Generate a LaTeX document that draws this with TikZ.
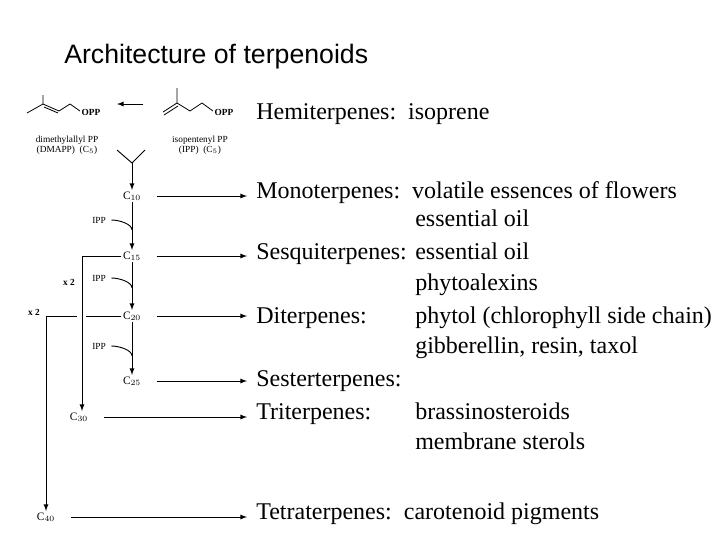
\documentclass[tikz,border=0pt]{standalone}
\usepackage{fontspec}
\setmainfont{Liberation Serif}
\setsansfont{Liberation Sans}
\usetikzlibrary{arrows}
\begin{document}
\begin{tikzpicture}[
      x=0.75pt, y=-0.75pt,
      >=latex,
      chem/.style={font=\fontsize{7}{8}\selectfont, inner sep=1pt},
      cnode/.style={font=\fontsize{8.5}{9}\selectfont, inner sep=1pt},
      class/.style={font=\fontsize{18}{19}\selectfont, anchor=base west, inner sep=0pt},
      bond/.style={line width=0.6pt},
      feed/.style={->,line width=0.7pt},
      route/.style={line width=0.7pt}
      ]
      \useasboundingbox (0,0) rectangle (720,540);
      % title
      \node [anchor=base west, inner sep=0pt, font=\sffamily\fontsize{20}{22}\selectfont] (title) at (64,63) {Architecture of terpenoids};
      % DMAPP
      \draw [bond] (27,113) -- (43,104) -- (43,95);
      \draw [bond] (43,104) -- (59,111) -- (70,104) -- (80,111);
      \draw [bond] (44,107) -- (58,113);
      \node [chem, anchor=west] (opp1) at (80,112) {\textbf{OPP}};
      \node [chem] (dmapp) at (67,140) {dimethylallyl PP};
      \node [chem] (dmapp2) at (67,150) {(DMAPP)\ \ (C$_5$)};
      % IPP
      \draw [bond] (163,112) -- (177,103) -- (177,88);
      \draw [bond] (164,115) -- (178,106);
      \draw [bond] (177,103) -- (190,111) -- (202,103) -- (213,111);
      \node [chem, anchor=west] (opp2) at (213,112) {\textbf{OPP}};
      \node [chem] (ipp) at (200,140) {isopentenyl PP};
      \node [chem] (ipp2) at (200,150) {(IPP)\ \ (C$_5$)};
      \draw [feed] (143,104) -- (117,104);
      % condensation
      \coordinate (join) at (132,163);
      \draw [route] (117,150) -- (join) -- (145,150);
      % carbon chain
      \node [cnode] (C10) at (132,196) {C$_{10}$};
      \node [cnode] (C15) at (132,256) {C$_{15}$};
      \node [cnode] (C20) at (132,316) {C$_{20}$};
      \node [cnode] (C25) at (132,381) {C$_{25}$};
      \node [cnode] (C30) at (79,417) {C$_{30}$};
      \node [cnode] (C40) at (46,517) {C$_{40}$};
      \draw [feed] (join) -- (C10);
      \draw [feed] (C10) -- (C15);
      \draw [feed] (C15) -- (C20);
      \draw [feed] (C20) -- (C25);
      % IPP additions
      \foreach \y/\n in {220/a,278/b,346/c} {
          \node [chem] (ipp\n) at (99,\y) {IPP};
          \draw [route] (ipp\n.east) ++(4,0) .. controls +(8,0) and +(0,-6) .. (132,\y+10);
      }
      % dimerisations
      \draw [route] (C15.west) -- (82,256);
      \draw [feed] (82,256) -- (C30.north -| 82,0);
      \node [chem] (x2a) at (69,282) {\textbf{x 2}};
      \draw [route] (C20.west) -- (86,316);
      \draw [route] (77,316) -- (46,316);
      \draw [feed] (46,316) -- (C40);
      \node [chem] (x2b) at (34,312) {\textbf{x 2}};
      % classes
      \foreach \n in {C10,C15,C20,C25,C30,C40} {
          \draw [feed] (\n.east) ++(14,0) -- (\n.east -| 247,0);
      }
      \node [class] (hemi) at (256,119) {Hemiterpenes:\ \ isoprene};
      \node [class] (mono) at (256,198) {Monoterpenes:\ \ volatile essences of flowers};
      \node [class] (mono2) at (415,226) {essential oil};
      \node [class] (sesq) at (256,259) {Sesquiterpenes:};
      \node [class] (sesq1) at (415,259) {essential oil};
      \node [class] (sesq2) at (415,290) {phytoalexins};
      \node [class] (di) at (256,323) {Diterpenes:};
      \node [class] (di1) at (415,323) {phytol (chlorophyll side chain)};
      \node [class] (di2) at (415,353) {gibberellin, resin, taxol};
      \node [class] (sest) at (256,386) {Sesterterpenes:};
      \node [class] (tri) at (256,419) {Triterpenes:};
      \node [class] (tri1) at (415,419) {brassinosteroids};
      \node [class] (tri2) at (415,449) {membrane sterols};
      \node [class] (tetra) at (256,519) {Tetraterpenes:\ \ carotenoid pigments};
\end{tikzpicture}
\end{document}
